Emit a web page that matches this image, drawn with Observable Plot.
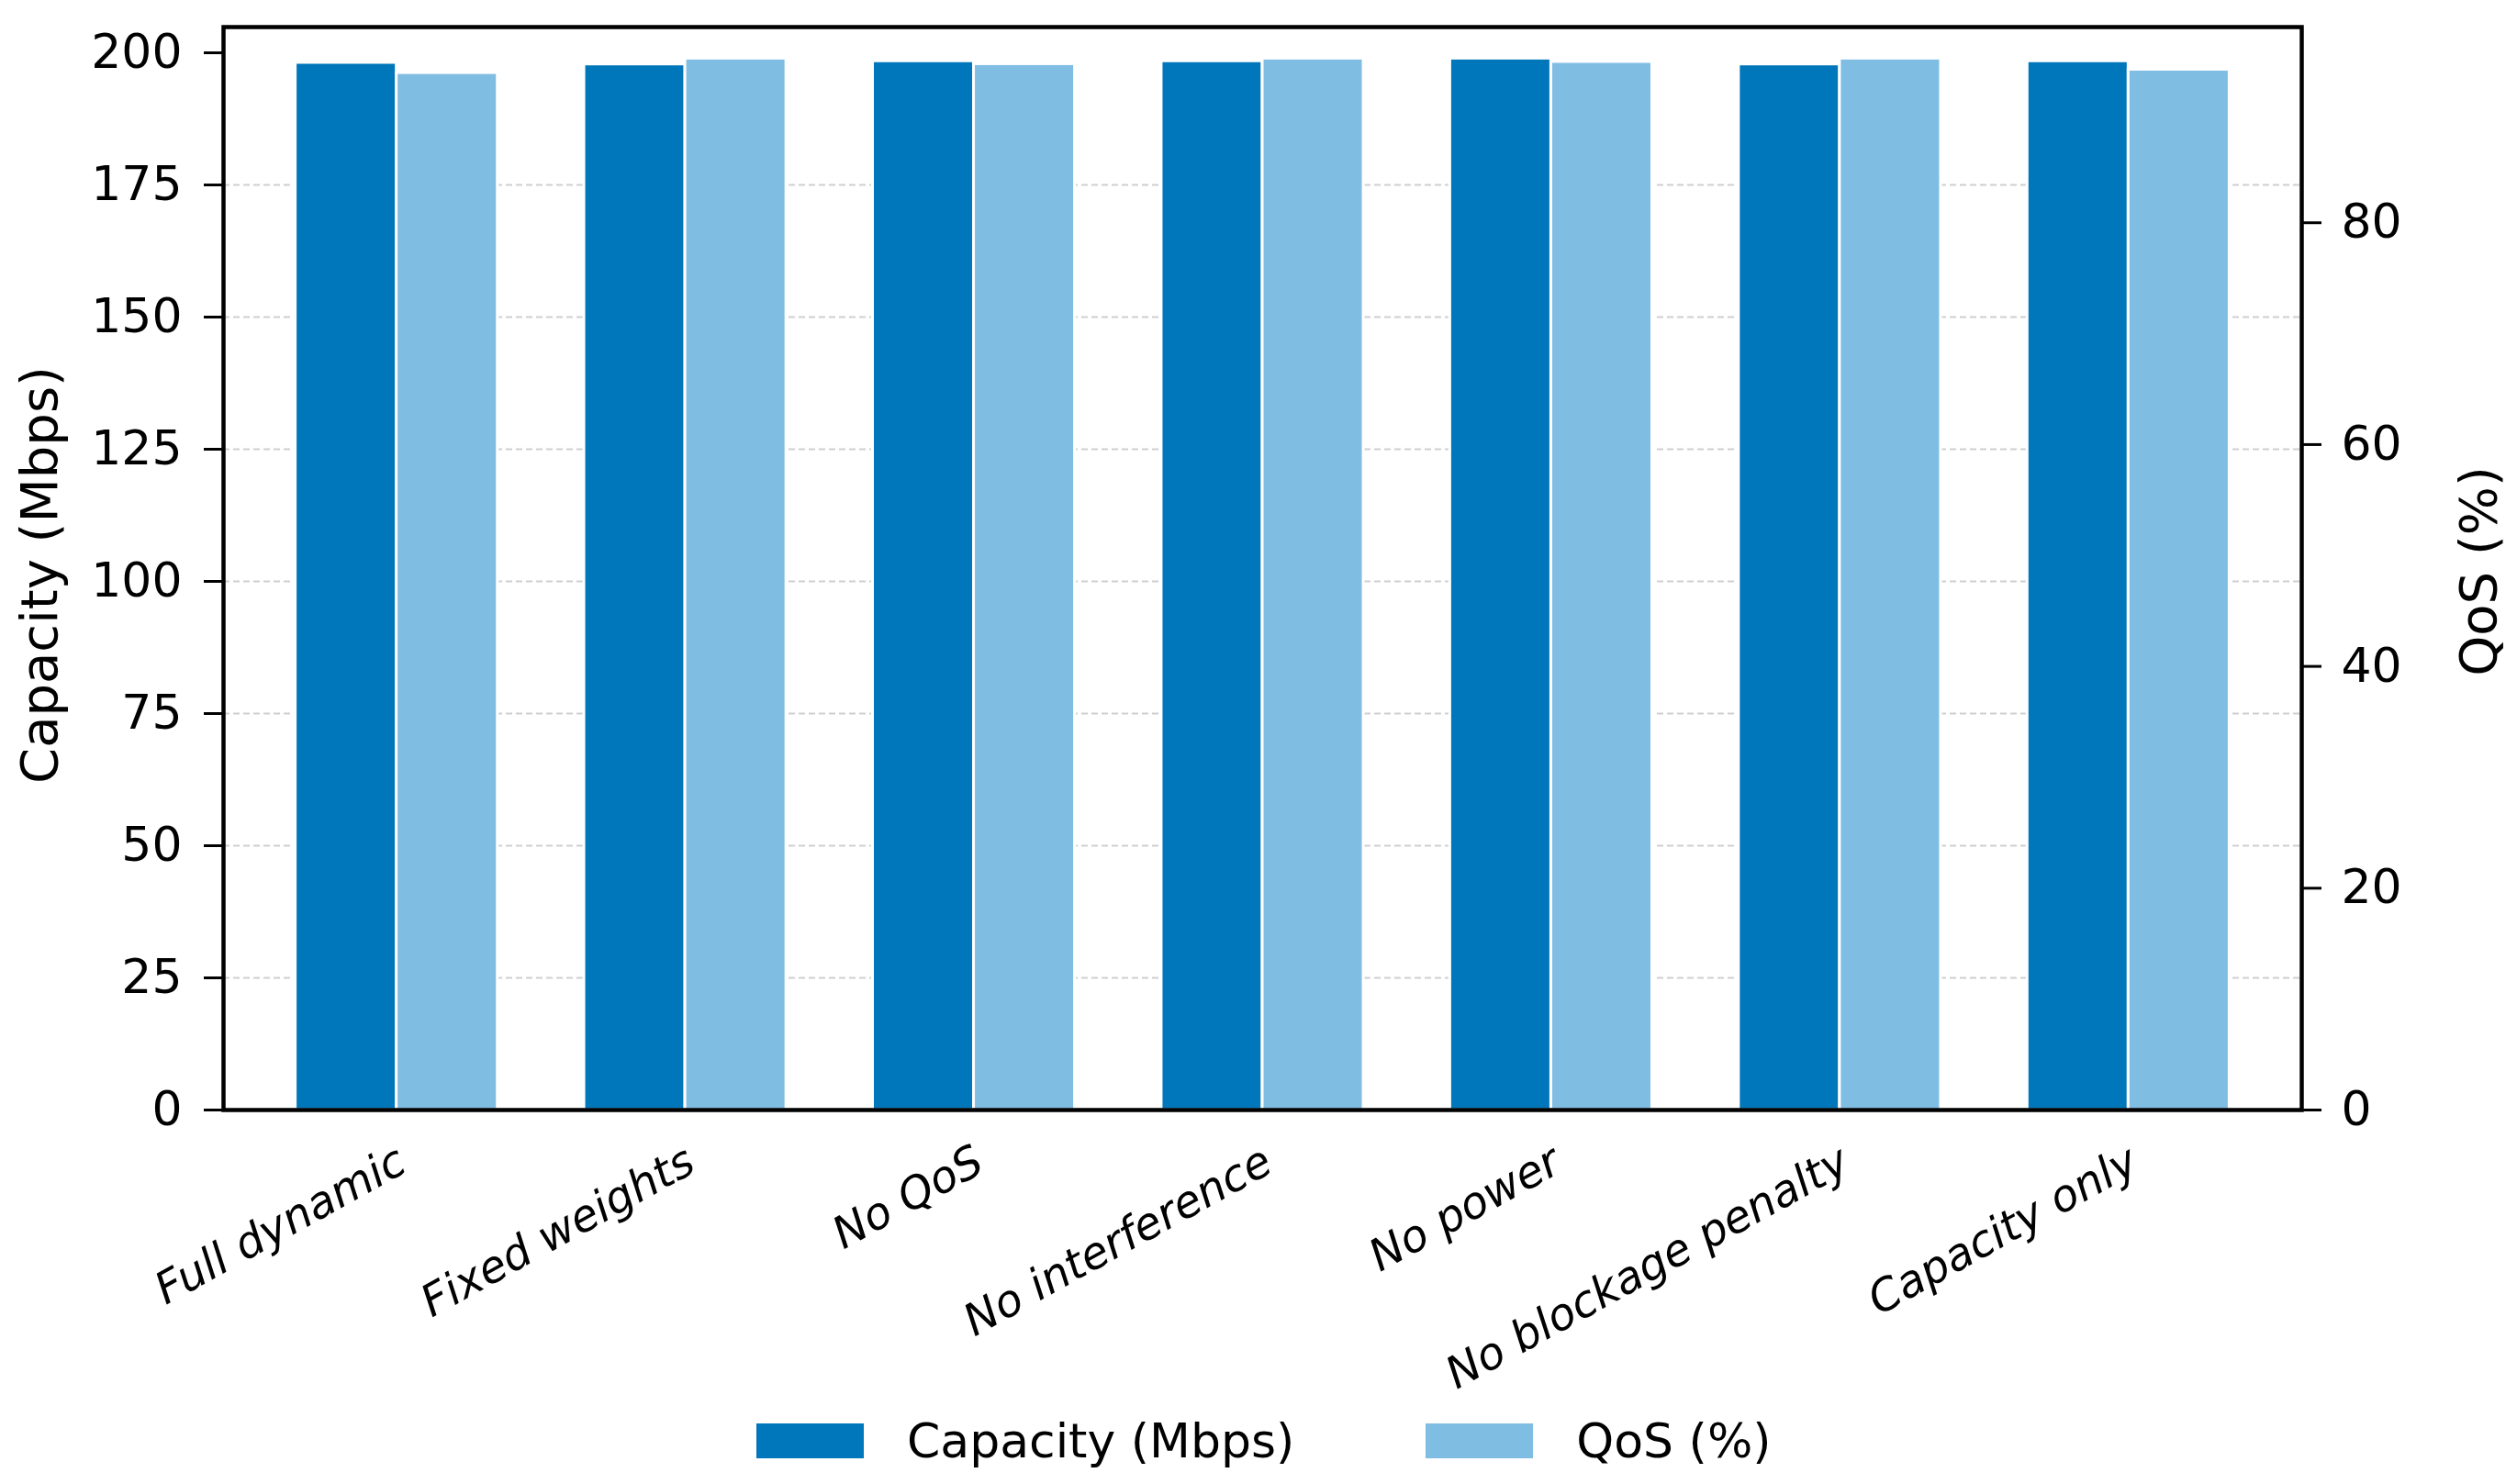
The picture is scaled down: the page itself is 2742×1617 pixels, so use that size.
<!DOCTYPE html>
<html>
<head>
<meta charset="utf-8">
<script src="https://cdn.jsdelivr.net/npm/d3@7"></script>
<script src="https://cdn.jsdelivr.net/npm/@observablehq/plot@0.6"></script>
<style>
  body { margin: 0; background: white; }
  #wrap { width: 2742px; background: white; }
  #chart svg { display: block; }
  #legend { height: 60px; margin-top: 10px; padding-left: 824px; display: flex; align-items: center;
            font-family: "DejaVu Sans", sans-serif; font-size: 52px; color: black; }
  .sw { display: inline-block; width: 117px; height: 38px; }
  .lab { margin-left: 47px; }
  .gap { display: inline-block; width: 143px; }
</style>
</head>
<body>
<div id="wrap"><div id="chart"></div><div id="legend"></div></div>
<script>
const categories = ["Full dynamic", "Fixed weights", "No QoS", "No interference", "No power", "No blockage penalty", "Capacity only"];
const capacity = [198.1, 197.8, 198.4, 198.4, 198.9, 197.8, 198.4];
const qos = [93.5, 94.8, 94.3, 94.8, 94.5, 94.8, 93.8];
const capTicks = [0, 25, 50, 75, 100, 125, 150, 175, 200];
const gridTicks = [25, 50, 75, 100, 125, 150, 175];
const qosTicks = [0, 20, 40, 60, 80];
const seriesNames = ["Capacity (Mbps)", "QoS (%)"];
const colors = ["#0077BB", "#80BDE3"];

const capTop = d3.max(capacity) * 1.03;
const qosTop = d3.max(qos) * 1.03;
const k = capTop / qosTop;
const w = 0.35;
const rows = categories.map((name, i) => ({i, name, cap: capacity[i], qos: qos[i]}));

const chart = Plot.plot({
  width: 2742, height: 1530,
  marginLeft: 243, marginRight: 235, marginTop: 29, marginBottom: 321,
  style: {fontFamily: "DejaVu Sans", fontSize: "52px", background: "white", color: "black"},
  x: {domain: [-0.6, 6.6], axis: null},
  y: {domain: [0, capTop], axis: null},
  marks: [
    Plot.ruleY(gridTicks, {stroke: "#cfcfcf", strokeWidth: 2, strokeDasharray: "7,4"}),
    Plot.rect(rows, {x1: d => d.i - w, x2: d => d.i, y1: 0, y2: d => d.cap, fill: colors[0], stroke: "white", strokeWidth: 3}),
    Plot.rect(rows, {x1: d => d.i, x2: d => d.i + w, y1: 0, y2: d => d.qos * k, fill: colors[1], stroke: "white", strokeWidth: 3}),
    Plot.axisY({anchor: "left", ticks: capTicks, tickSize: 21, tickPadding: 24, strokeWidth: 3, fontSize: 52, label: null, tickFormat: d => String(d)}),
    Plot.axisY({anchor: "right", ticks: qosTicks.map(q => q * k), tickSize: 21, tickPadding: 22, strokeWidth: 3, fontSize: 52, label: null, tickFormat: v => String(Math.round(v / k))}),
    Plot.frame({stroke: "black", strokeWidth: 4.5}),
    Plot.text(rows, {x: "i", y: 0, text: "name", rotate: -29, textAnchor: "end", lineAnchor: "top", dx: -3, dy: 36, fontStyle: "italic", fontSize: 48, fill: "black"}),
    Plot.text([seriesNames[0]], {text: d => d, frameAnchor: "left", textAnchor: "middle", lineAnchor: "middle", dx: -199, dy: 7, rotate: -90, fontSize: 56, fill: "black"}),
    Plot.text([seriesNames[1]], {text: d => d, frameAnchor: "right", textAnchor: "middle", lineAnchor: "middle", dx: 194, dy: 3, rotate: -90, fontSize: 56, fill: "black"})
  ]
});
document.getElementById("chart").appendChild(chart);

const legend = document.getElementById("legend");
seriesNames.forEach((n, j) => {
  if (j > 0) { const g = document.createElement("span"); g.className = "gap"; legend.appendChild(g); }
  const s = document.createElement("span"); s.className = "sw"; s.style.background = colors[j]; legend.appendChild(s);
  const t = document.createElement("span"); t.className = "lab"; t.textContent = n; legend.appendChild(t);
});
</script>
</body>
</html>
